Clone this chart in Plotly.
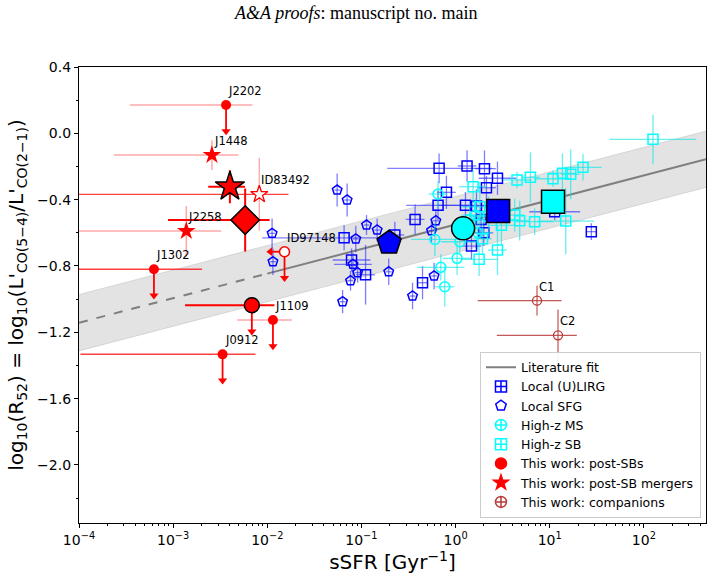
import numpy as np
import plotly.graph_objects as go

# ---------------- data (log10 sSFR, log10 R52, x-errors in dex, y-errors) ----------------
# Local (U)LIRG
lirg_lx = [-0.175, 0.122, 0.307, 0.445, 0.328, -0.097, -0.186, 0.105, 0.222, -0.43, -1.184, -0.645,
           -1.105, -0.956, -0.351, 0.169, 1.442, 1.053, 0.30, 0.27]
lirg_y = [-0.211, -0.197, -0.213, -0.271, -0.328, -0.356, -0.434, -0.434, -0.438, -0.519, -0.63, -0.613,
          -0.764, -0.853, -0.901, -0.68, -0.593, -0.473, -0.60, -0.52]
lirg_xlo = [0.55, 0.1, 0.1, 0.2, 0.1, 0.1, 0.34, 0.3, 0.15, 0.1, 0.87, 0.1, 0.2, 0.1, 0.05, 0.1, 0.05, 0.27, 0.1, 0.1]
lirg_xhi = [0.56, 0.1, 0.12, 0.2, 0.1, 0.1, 0.34, 0.3, 0.15, 0.1, 0.45, 0.1, 0.2, 0.1, 0.05, 0.1, 0.05, 0.27, 0.1, 0.1]
lirg_ye = [0.09, 0.095, 0.11, 0.1, 0.07, 0.1, 0.09, 0.08, 0.1, 0.09, 0.075, 0.08, 0.07, 0.18, 0.1, 0.08, 0.05, 0.05, 0.08, 0.1]

# Local SFG
sfg_lx = [-1.258, -1.152, -1.949, -1.94, -0.946, -0.833, -1.06, -1.09, -1.04, -1.116, -1.2, -0.71,
          -0.457, -0.228, -0.21, -0.256]
sfg_y = [-0.342, -0.402, -0.603, -0.774, -0.553, -0.583, -0.637, -0.79, -0.84, -0.889, -1.015, -0.835,
         -0.981, -0.86, -0.527, -0.587]
sfg_xe = [0.03, 0.03, 0.03, 0.03, 0.03, 0.03, 0.03, 0.2, 0.03, 0.03, 0.03, 0.03, 0.03, 0.03, 0.03, 0.03]
sfg_ye = [0.1, 0.1, 0.09, 0.08, 0.06, 0.07, 0.08, 0.07, 0.06, 0.06, 0.07, 0.08, 0.08, 0.08, 0.07, 0.07]

# High-z MS
ms_lx = [-0.186, -0.22, 0.045, 0.016, -0.157, -0.115, 0.214, 0.236, 0.15]
ms_y = [-0.366, -0.64, -0.654, -0.754, -0.808, -0.925, -0.493, -0.60, -0.52]
ms_xe = [0.1, 0.25, 0.2, 0.15, 0.25, 0.1, 0.15, 0.15, 0.15]
ms_ye = [0.08, 0.1, 0.08, 0.1, 0.08, 0.12, 0.1, 0.1, 0.1]

# High-z SB
sb_lx = [2.097, 0.653, 0.795, 1.035, 1.135, 1.223, 1.354, 0.681, 0.84, 1.17, 0.628, 0.445, 0.25, 0.487,
         0.286, 0.186, 0.257, 0.35]
sb_y = [-0.036, -0.281, -0.265, -0.274, -0.241, -0.247, -0.205, -0.527, -0.533, -0.529, -0.493, -0.704,
        -0.76, -0.555, -0.636, -0.322, -0.443, -0.50]
sb_xe = [0.46, 0.15, 0.1, 0.2, 0.15, 0.1, 0.2, 0.1, 0.2, 0.3, 0.1, 0.1, 0.2, 0.15, 0.1, 0.15, 0.2, 0.2]
sb_ye = [0.15, 0.05, 0.15, 0.05, 0.12, 0.15, 0.08, 0.12, 0.08, 0.2, 0.1, 0.15, 0.1, 0.12, 0.1, 0.1, 0.15, 0.12]

# Sample means (big symbols)
mean_names = ["Local (U)LIRG", "Local SFG", "High-z MS", "High-z SB"]
mean_lx = [0.452, -0.706, 0.08, 1.035]
mean_y = [-0.469, -0.66, -0.573, -0.412]

# This work: post-SBs (upper limits)
psb_names = ["J2202", "J1302", "J0912", "J1109"]
psb_lx = [-2.438, -3.204, -2.475, -1.94]
psb_y = [0.171, -0.82, -1.333, -1.126]
psb_xlo = [1.02, 0.8, 1.51, 0.38]
psb_xhi = [0.28, 0.51, 0.35, 0.2]
psb_bar = ["rgba(255,0,0,0.35)", "rgba(255,0,0,0.75)", "rgba(255,0,0,0.75)", "rgba(255,0,0,0.35)"]

# ID97148 (upper limits in both axes)
id97_lx = [-1.817]
id97_y = [-0.714]

# This work: post-SB mergers
psm_names = ["J1448", "J2258"]
psm_lx = [-2.588, -2.86]
psm_y = [-0.131, -0.589]
psm_xlo = [1.04, 1.2]
psm_xhi = [0.28, 0.37]
psm_ye = [0.09, 0.15]

id83_lx = [-2.085]
id83_y = [-0.368]
id83_xlo = [1.95]
id83_xhi = [0.31]
id83_ye = [0.22]

# This work averages
avg_psb = dict(lx=-2.164, y=-1.037, xlo=0.71, xhi=0.24)
avg_psm = dict(lx=-2.397, y=-0.322, xlo=0.23, xhi=0.16, ye=0.1)
avg_all = dict(lx=-2.235, y=-0.523, xlo=0.82, xhi=0.26, ye=0.19)

# Companions
comp_names = ["C1", "C2"]
comp_lx = [0.865, 1.088]
comp_y = [-1.009, -1.218]
comp_xlo = [0.63, 0.65]
comp_xhi = [0.26, 0.2]
comp_ye = [0.09, 0.155]

# Literature fit
fit_slope = 0.148
fit_icpt = -0.55
fit_scatter = 0.17
fit_split = -2.0
x_range = [-4.0, 2.66]
y_range = [-2.35, 0.4]
ulim_len = 0.18      # length of upper-limit arrows (in y units)
xlim_len = 0.17      # length of left arrow (dex)

xtick_exp = [-4, -3, -2, -1, 0, 1, 2]
ytick_vals = [0.4, 0.0, -0.4, -0.8, -1.2, -1.6, -2.0]

# ---------------- helpers ----------------
def errx(lx, lo, hi):
    x = 10 ** np.asarray(lx, float)
    return x, x * (10 ** np.asarray(hi, float) - 1), x * (1 - 10 ** (-np.asarray(lo, float)))

BLUE = "#0000ff"
CYAN = "#00ffff"
RED = "#ff0000"
COMP = "#b83a3a"
FONT = "DejaVu Sans"

fig = go.Figure()

# band + fit line
fx = np.array(x_range)
fig.add_trace(go.Scatter(x=10 ** fx, y=fit_icpt + fit_slope * fx + fit_scatter, mode="lines",
                         line=dict(color="rgba(0,0,0,0.1)", width=1), showlegend=False, hoverinfo="skip"))
fig.add_trace(go.Scatter(x=10 ** fx, y=fit_icpt + fit_slope * fx - fit_scatter, mode="lines",
                         line=dict(color="rgba(0,0,0,0.1)", width=1), fill="tonexty",
                         fillcolor="rgba(128,128,128,0.22)", showlegend=False, hoverinfo="skip"))
fd = np.array([x_range[0], fit_split])
fs = np.array([fit_split, x_range[1]])
fig.add_trace(go.Scatter(x=10 ** fd, y=fit_icpt + fit_slope * fd, mode="lines",
                         line=dict(color="#7f7f7f", width=2, dash="dash"), showlegend=False))
fig.add_trace(go.Scatter(x=10 ** fs, y=fit_icpt + fit_slope * fs, mode="lines",
                         line=dict(color="#7f7f7f", width=2), showlegend=False))


def group(lx, y, xlo, xhi, ye, symbol, color, ecolor, size, lw=1.5):
    x, p, m = errx(lx, xlo, xhi)
    fig.add_trace(go.Scatter(
        x=x, y=y, mode="markers", showlegend=False,
        marker=dict(symbol=symbol, size=size, color=color, line=dict(color=color, width=lw)),
        error_x=dict(type="data", array=p, arrayminus=m, color=ecolor, thickness=1.3, width=0),
        error_y=dict(type="data", array=ye, color=ecolor, thickness=1.3, width=0)))


group(lirg_lx, lirg_y, lirg_xlo, lirg_xhi, lirg_ye, "square-open", BLUE, "rgba(40,40,255,0.6)", 10)
group(sfg_lx, sfg_y, sfg_xe, sfg_xe, sfg_ye, "pentagon-open", BLUE, "rgba(40,40,255,0.6)", 10)
group(ms_lx, ms_y, ms_xe, ms_xe, ms_ye, "circle-open", CYAN, "rgba(0,230,230,0.6)", 10)
group(sb_lx, sb_y, sb_xe, sb_xe, sb_ye, "square-open", CYAN, "rgba(0,230,230,0.6)", 10)

# means
mean_sym = ["square", "pentagon", "circle", "square"]
mean_col = [BLUE, BLUE, CYAN, CYAN]
mean_size = [23, 25, 23, 23]
for i in range(4):
    fig.add_trace(go.Scatter(x=[10 ** mean_lx[i]], y=[mean_y[i]], mode="markers", showlegend=False,
                             name=mean_names[i],
                             marker=dict(symbol=mean_sym[i], size=mean_size[i], color=mean_col[i],
                                         line=dict(color="black", width=1.5))))

annots = []

def label(lx, yv, txt):
    annots.append(dict(x=lx, y=yv, xref="x", yref="y", text=txt, showarrow=False, xanchor="left",
                       yanchor="bottom", yshift=5, font=dict(family=FONT, size=11.5, color="black")))

def down_arrows(lx, yv, color=RED):
    lx = np.asarray(lx, float)
    yv = np.asarray(yv, float)
    tip = yv - ulim_len
    fig.add_trace(go.Scatter(x=10 ** lx, y=tip + 0.022, mode="markers", showlegend=False, hoverinfo="skip",
                             marker=dict(symbol="triangle-down", size=8, color=color, line=dict(width=0)),
                             error_y=dict(type="data", array=np.full(len(lx), ulim_len - 0.022),
                                          arrayminus=np.zeros(len(lx)), color=color, thickness=1.8, width=0)))

def left_arrows(lx, yv, color=RED):
    lx = np.asarray(lx, float)
    tipx = lx - xlim_len + 0.02
    x = 10 ** tipx
    fig.add_trace(go.Scatter(x=x, y=yv, mode="markers", showlegend=False, hoverinfo="skip",
                             marker=dict(symbol="triangle-left", size=8, color=color, line=dict(width=0)),
                             error_x=dict(type="data", array=10 ** lx - x, arrayminus=np.zeros(len(lx)),
                                          color=color, thickness=1.8, width=0)))

# companions
x, p, m = errx(comp_lx, comp_xlo, comp_xhi)
fig.add_trace(go.Scatter(x=x, y=comp_y, mode="markers", showlegend=False,
                         marker=dict(symbol="circle-open", size=9, color=COMP, line=dict(color=COMP, width=1.3)),
                         error_x=dict(type="data", array=p, arrayminus=m, color="rgba(184,58,58,0.85)", thickness=1.2, width=0),
                         error_y=dict(type="data", array=comp_ye, color="rgba(184,58,58,0.85)", thickness=1.2, width=0)))
for i in range(2):
    label(comp_lx[i], comp_y[i], comp_names[i])

# post-SB individual (upper limits)
down_arrows(psb_lx, psb_y)
for i in range(4):
    x, p, m = errx([psb_lx[i]], [psb_xlo[i]], [psb_xhi[i]])
    fig.add_trace(go.Scatter(x=x, y=[psb_y[i]], mode="markers", showlegend=False,
                             marker=dict(symbol="circle", size=10, color=RED),
                             error_x=dict(type="data", array=p, arrayminus=m, color=psb_bar[i], thickness=1.5, width=0)))
    label(psb_lx[i], psb_y[i], psb_names[i])

# ID97148
down_arrows(id97_lx, id97_y)
left_arrows(id97_lx, id97_y)
fig.add_trace(go.Scatter(x=10 ** np.array(id97_lx), y=id97_y, mode="markers", showlegend=False,
                         marker=dict(symbol="circle", size=10, color="white", line=dict(color=RED, width=1.5))))
label(id97_lx[0], id97_y[0], "ID97148")

# mergers
for i in range(2):
    x, p, m = errx([psm_lx[i]], [psm_xlo[i]], [psm_xhi[i]])
    fig.add_trace(go.Scatter(x=x, y=[psm_y[i]], mode="markers", showlegend=False,
                             marker=dict(symbol="star", size=14, color=RED, line=dict(width=0)),
                             error_x=dict(type="data", array=p, arrayminus=m, color="rgba(255,0,0,0.35)", thickness=1.5, width=0),
                             error_y=dict(type="data", array=[psm_ye[i]], color="rgba(255,0,0,0.35)", thickness=1.5, width=0)))
    label(psm_lx[i], psm_y[i], psm_names[i])

x, p, m = errx(id83_lx, id83_xlo, id83_xhi)
fig.add_trace(go.Scatter(x=x, y=id83_y, mode="markers", showlegend=False,
                         marker=dict(symbol="star", size=13, color="white", line=dict(color=RED, width=1.3)),
                         error_x=dict(type="data", array=p, arrayminus=m, color="rgba(255,0,0,0.75)", thickness=1.3, width=0),
                         error_y=dict(type="data", array=id83_ye, color="rgba(255,0,0,0.35)", thickness=1.3, width=0)))
label(id83_lx[0], id83_y[0], "ID83492")

# averages of this work
a = avg_all
x, p, m = errx([a["lx"]], [a["xlo"]], [a["xhi"]])
fig.add_trace(go.Scatter(x=x, y=[a["y"]], mode="markers", showlegend=False,
                         marker=dict(symbol="diamond", size=22, color=RED, line=dict(color="black", width=1.5)),
                         error_x=dict(type="data", array=p, arrayminus=m, color=RED, thickness=2, width=0),
                         error_y=dict(type="data", array=[a["ye"]], color=RED, thickness=2, width=0)))
a = avg_psm
x, p, m = errx([a["lx"]], [a["xlo"]], [a["xhi"]])
fig.add_trace(go.Scatter(x=x, y=[a["y"]], mode="markers", showlegend=False,
                         marker=dict(symbol="star", size=22, color=RED, line=dict(color="black", width=1.5)),
                         error_x=dict(type="data", array=p, arrayminus=m, color=RED, thickness=2, width=0),
                         error_y=dict(type="data", array=[a["ye"]], color=RED, thickness=2, width=0)))
a = avg_psb
down_arrows([a["lx"]], [a["y"]])
x, p, m = errx([a["lx"]], [a["xlo"]], [a["xhi"]])
fig.add_trace(go.Scatter(x=x, y=[a["y"]], mode="markers", showlegend=False,
                         marker=dict(symbol="circle", size=15, color=RED, line=dict(color="black", width=1.5)),
                         error_x=dict(type="data", array=p, arrayminus=m, color=RED, thickness=2, width=0)))

# legend entries
leg = [("Local (U)LIRG", "square-cross-open", BLUE),
       ("Local SFG", "pentagon-open", BLUE),
       ("High-z MS", "circle-cross-open", CYAN),
       ("High-z SB", "square-cross-open", CYAN),
       ("This work: post-SBs", "circle", RED),
       ("This work: post-SB mergers", "star", RED),
       ("This work: companions", "circle-cross-open", COMP)]
fig.add_trace(go.Scatter(x=[None], y=[None], mode="lines", name="Literature fit",
                         line=dict(color="#7f7f7f", width=2)))
for nm, sym, col in leg:
    fig.add_trace(go.Scatter(x=[None], y=[None], mode="markers", name=nm,
                             marker=dict(symbol=sym, size=11, color=col, line=dict(color=col, width=1.5))))

fig.update_layout(
    width=713, height=582,
    margin=dict(l=79, r=7, t=67, b=59),
    paper_bgcolor="white", plot_bgcolor="white",
    font=dict(family=FONT, size=14, color="black"),
    showlegend=True,
    legend=dict(x=0.992, y=0.012, xanchor="right", yanchor="bottom", traceorder="normal",
                bordercolor="#cccccc", borderwidth=1, bgcolor="rgba(255,255,255,0.9)",
                font=dict(family=FONT, size=12.5), tracegroupgap=0, itemwidth=30),
    annotations=annots,
)
fig.add_annotation(x=(356 - 79) / 627, y=1 + (67 - 13) / 456, xref="paper", yref="paper",
                   text="<i>A&A proofs</i>: manuscript no. main", showarrow=False,
                   xanchor="center", yanchor="middle",
                   font=dict(family="Liberation Serif", size=18, color="black"))

minor_x = [k * 10.0 ** e for e in range(-4, 3) for k in range(2, 10)]
fig.update_xaxes(type="log", range=x_range, showgrid=False, zeroline=False,
                 showline=True, linecolor="black", linewidth=1.2, mirror=True,
                 ticks="outside", ticklen=4, tickcolor="black",
                 tickvals=[10.0 ** e for e in xtick_exp],
                 ticktext=["10<sup>%s</sup>" % (str(e).replace("-", "\u2212")) for e in xtick_exp],
                 tickfont=dict(family=FONT, size=14),
                 minor=dict(tickmode="array", tickvals=minor_x, ticks="outside", ticklen=2, tickcolor="black", showgrid=False),
                 title=dict(text="sSFR [Gyr<sup>\u22121</sup>]", font=dict(family=FONT, size=20), standoff=6))
fig.update_yaxes(range=y_range, showgrid=False, zeroline=False,
                 showline=True, linecolor="black", linewidth=1.2, mirror=True,
                 ticks="outside", ticklen=4, tickcolor="black",
                 tickvals=ytick_vals,
                 ticktext=[("%.1f" % v).replace("-", "\u2212") for v in ytick_vals],
                 tickfont=dict(family=FONT, size=14),
                 minor=dict(dtick=0.2, tick0=0, ticks="outside", ticklen=2, tickcolor="black", showgrid=False),
                 title=dict(text="log<sub>10</sub>(R<sub>52</sub>) = log<sub>10</sub>(L'<sub>CO(5\u22124)</sub>/L'<sub>CO(2\u22121)</sub>)",
                            font=dict(family=FONT, size=20), standoff=8))

fig.write_html("out.html")
